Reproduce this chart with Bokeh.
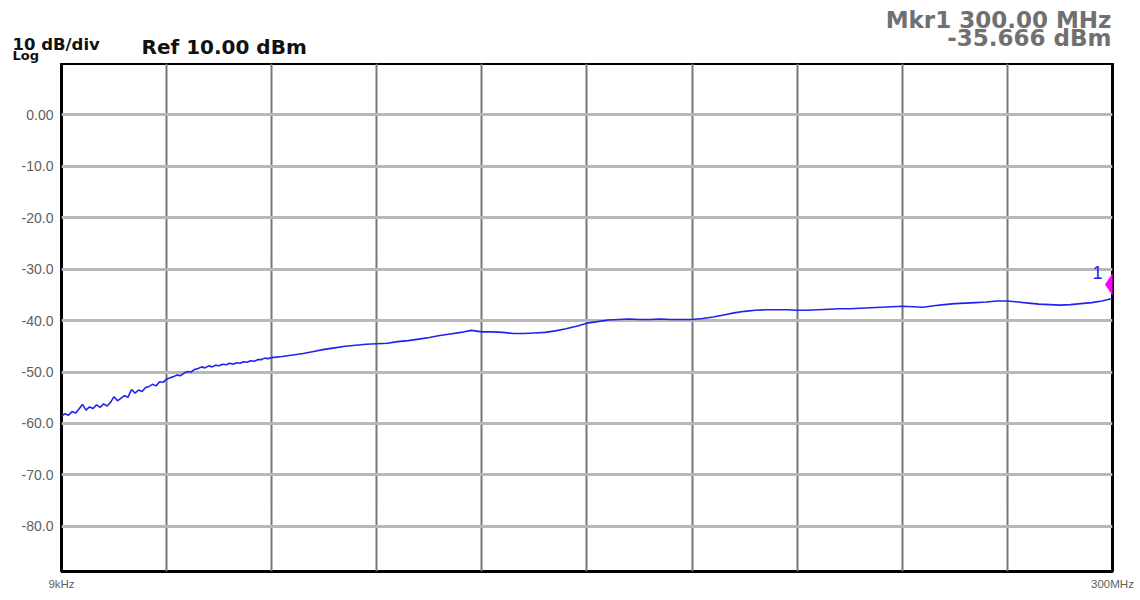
import numpy as np
from bokeh.plotting import figure
from bokeh.models import Range1d, FixedTicker
from bokeh.core.properties import value
from bokeh.embed import file_html
from bokeh.resources import INLINE

# ---------------- data ----------------
start_mhz = 0.009
stop_mhz = 300.0
ref_level = 10.0
bottom_level = -88.8

# sweep points, 0..60 MHz at 1 MHz, then 63..300 MHz at 3 MHz
freq_low = np.linspace(0.009, 60.0, 61)
level_low = [
    -58.6, -58.1, -58.4, -57.7, -58.0, -57.2, -56.3, -57.4, -56.8, -57.1,
    -56.4, -56.9, -56.2, -56.6, -55.9, -54.8, -55.6, -55.1, -54.6, -54.9,
    -53.4, -54.1, -53.5, -53.8, -53.0, -52.8, -52.4, -52.7, -51.9, -52.0,
    -51.4, -51.1, -50.9, -50.6, -50.7, -50.2, -49.9, -50.0, -49.5, -49.3,
    -49.0, -49.2, -48.8, -49.0, -48.7, -48.8, -48.5, -48.6, -48.3, -48.5,
    -48.2, -48.3, -48.0, -48.1, -47.8, -47.9, -47.6, -47.6, -47.3, -47.4,
    -47.2,
]
freq_high = np.linspace(63.0, 300.0, 80)
level_high = [
    -47.0, -46.7, -46.4, -46.0, -45.6, -45.3, -45.0, -44.8, -44.6, -44.5,
    -44.4, -44.1, -43.9, -43.6, -43.3, -42.9, -42.6, -42.3, -41.9, -42.2,
    -42.2, -42.3, -42.5, -42.5, -42.4, -42.3, -42.0, -41.6, -41.1, -40.5,
    -40.2, -39.9, -39.8, -39.7, -39.8, -39.8, -39.7, -39.8, -39.8, -39.8,
    -39.6, -39.3, -38.9, -38.5, -38.2, -38.0, -37.9, -37.9, -37.9, -38.0,
    -38.0, -37.9, -37.8, -37.7, -37.7, -37.6, -37.5, -37.4, -37.3, -37.2,
    -37.3, -37.4, -37.1, -36.9, -36.7, -36.6, -36.5, -36.4, -36.2, -36.2,
    -36.4, -36.6, -36.8, -36.9, -37.0, -36.9, -36.7, -36.5, -36.2, -35.7,
]
marker_freq = 300.0
marker_level = -35.666

y_ticks = [0, -10, -20, -30, -40, -50, -60, -70, -80]
y_tick_labels = ["0.00", "-10.0", "-20.0", "-30.0", "-40.0", "-50.0", "-60.0", "-70.0", "-80.0"]
x_grid = [30, 60, 90, 120, 150, 180, 210, 240, 270]
x_ticks = [start_mhz, stop_mhz]
x_tick_labels = ["9kHz", "300MHz"]

header_texts = ["10 dB/div", "Log", "Ref 10.00 dBm", "Mkr1 300.00 MHz", "-35.666 dBm"]

freq = list(freq_low) + list(freq_high)
level = level_low + level_high

# ---------------- layout ----------------
W = 1138
HEADER_H = 63
ML, MR, MT, MB = 61, 26, 0, 25
FRAME_H = 508
H = MT + FRAME_H + MB

# ---------------- header (text strip) ----------------
hdr = figure(width=W, height=HEADER_H, output_backend="svg", toolbar_location=None,
             x_range=Range1d(0, W), y_range=Range1d(HEADER_H, 0),
             min_border_left=0, min_border_right=0, min_border_top=0, min_border_bottom=0,
             background_fill_color="white", border_fill_color="white")
hdr.axis.visible = False
hdr.grid.visible = False
hdr.outline_line_color = None


def htext(txt, x, y, size, color, align="left"):
    hdr.text([x], [y], text=[txt], text_align=align, text_baseline="middle",
             text_font=value("DejaVu Sans"), text_font_style="bold",
             text_font_size=size, text_color=color)


htext(header_texts[0], 12, 43.5, "16.5px", "#111111")
htext(header_texts[1], 12, 54.5, "13px", "#111111")
htext(header_texts[2], 141, 46, "20px", "#111111")
htext(header_texts[3], 1111, 19, "23px", "#707070", align="right")
htext(header_texts[4], 1111, 37, "23px", "#707070", align="right")

# ---------------- main plot ----------------
p = figure(width=W, height=H, output_backend="svg", toolbar_location=None,
           x_range=Range1d(start_mhz, stop_mhz), y_range=Range1d(bottom_level, ref_level),
           min_border_left=ML, min_border_right=MR, min_border_top=MT, min_border_bottom=MB,
           background_fill_color="white", border_fill_color="white")
p.outline_line_color = "black"
p.outline_line_width = 3

# y axis
p.yaxis.ticker = FixedTicker(ticks=y_ticks)
p.yaxis.major_label_overrides = dict(zip(y_ticks, y_tick_labels))
p.yaxis.axis_line_color = None
p.yaxis.major_tick_line_color = None
p.yaxis.minor_tick_line_color = None
p.yaxis.major_label_standoff = 2
p.yaxis.major_label_text_font = "Liberation Sans"
p.yaxis.major_label_text_font_size = "14px"
p.yaxis.major_label_text_color = "#606060"

# x axis
p.xaxis.ticker = FixedTicker(ticks=x_ticks)
p.xaxis.major_label_overrides = dict(zip(x_ticks, x_tick_labels))
p.xaxis.axis_line_color = None
p.xaxis.major_tick_line_color = None
p.xaxis.minor_tick_line_color = None
p.xaxis.major_label_standoff = 0
p.xaxis.major_label_text_font = "Liberation Sans"
p.xaxis.major_label_text_font_size = "11.5px"
p.xaxis.major_label_text_color = "#606060"

# grids
p.ygrid.ticker = FixedTicker(ticks=y_ticks)
p.ygrid.grid_line_color = "#b8b8b8"
p.ygrid.grid_line_width = 3
p.xgrid.ticker = FixedTicker(ticks=x_grid)
p.xgrid.grid_line_color = "#777777"
p.xgrid.grid_line_width = 2

# trace
p.line(freq, level, line_color="#2222ee", line_width=1.6)

# marker
p.scatter([marker_freq], [marker_level + 2.7], marker="diamond", size=21,
          fill_color="#ff00ff", line_color="#ff00ff")
p.text([marker_freq], [marker_level], text=["1"], x_offset=-15, y_offset=-26,
       text_align="center", text_baseline="middle", text_color="#2222ee",
       text_font=value("Liberation Sans"), text_font_size="18px")

open("out.html", "w").write(file_html([hdr, p], INLINE))
